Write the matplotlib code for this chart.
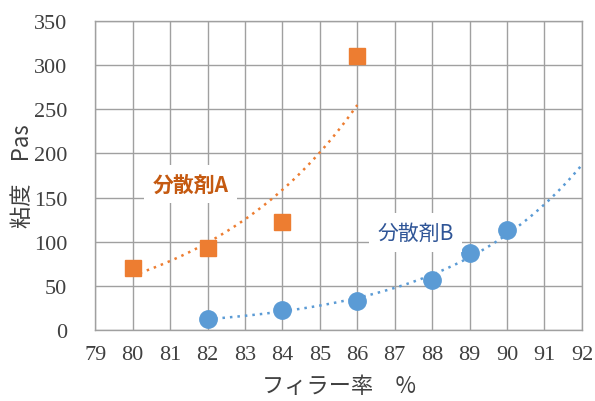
import matplotlib
matplotlib.use("Agg")
import matplotlib.pyplot as plt
import numpy as np

# data
x_a = [80, 82, 84, 86]
y_a = [70, 93, 122, 310]
x_b = [82, 84, 86, 88, 89, 90]
y_b = [12, 23, 33, 57, 87, 113]

x_ticks = list(range(79, 93))
y_ticks = list(range(0, 351, 50))

orange = "#ED7D31"
blue = "#5B9BD5"
grid_color = "#A0A0A0"
text_color = "#404040"

num_font = ["Liberation Serif", "Noto Sans CJK JP"]
jp_font = ["Noto Sans CJK JP", "DejaVu Sans"]


def exp_trend(xs, ys, x_from, x_to):
    """Exponential trendline like a spreadsheet's."""
    b, ln_a = np.polyfit(xs, np.log(ys), 1)
    xt = np.linspace(x_from, x_to, 200)
    return xt, np.exp(ln_a) * np.exp(b * xt)


fig = plt.figure(figsize=(5.95, 4.02), dpi=100)
ax = fig.add_axes([0.160, 0.177, 0.818, 0.768])

ax.set_xlim(79, 92)
ax.set_ylim(0, 350)
ax.set_xticks(x_ticks)
ax.set_yticks(y_ticks)
ax.grid(True, color=grid_color, linewidth=1.0)
ax.set_axisbelow(True)
for side, spine in ax.spines.items():
    spine.set_color(grid_color)
    spine.set_linewidth(1.0)
ax.tick_params(length=0, labelsize=16, labelcolor=text_color)
ax.tick_params(axis="y", pad=20)
ax.tick_params(axis="x", pad=11)
for lbl in ax.get_xticklabels() + ax.get_yticklabels():
    lbl.set_family(num_font)

xt, yt = exp_trend(x_a, y_a, 80, 86)
ax.plot(xt, yt, linestyle=(0, (1, 2)), color=orange, linewidth=1.8, zorder=2)
xt, yt = exp_trend(x_b, y_b, 82, 92)
ax.plot(xt, yt, linestyle=(0, (1, 2)), color=blue, linewidth=1.8, zorder=2)

ax.plot(x_a, y_a, "s", color=orange, markersize=12, zorder=3, clip_on=False)
ax.plot(x_b, y_b, "o", color=blue, markersize=12.5, zorder=3, clip_on=False)

ax.text(81.55, 165, "分散剤A", color="#C55A11", fontsize=15, fontweight="bold",
        family=jp_font, ha="center", va="center", zorder=4,
        bbox=dict(facecolor="white", edgecolor="none", pad=6))
ax.text(87.55, 110, "分散剤B", color="#2F5597", fontsize=15,
        family=jp_font, ha="center", va="center", zorder=4,
        bbox=dict(facecolor="white", edgecolor="none", pad=6))

ax.set_xlabel("フィラー率　%", fontsize=16, color=text_color, family=jp_font,
              labelpad=7)
ax.set_ylabel("粘度　Pas", fontsize=16, color=text_color, family=jp_font,
              labelpad=0)

fig.savefig("out.png", dpi=100)
plt.close(fig)
